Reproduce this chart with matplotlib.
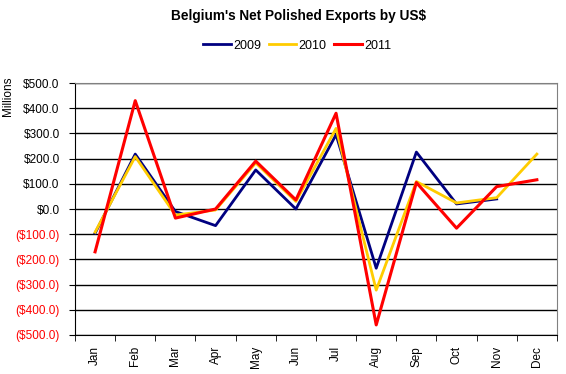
import matplotlib.pyplot as plt
from matplotlib import ticker

months = ['Jan', 'Feb', 'Mar', 'Apr', 'May', 'Jun', 'Jul', 'Aug', 'Sep', 'Oct', 'Nov', 'Dec']
exports_2009 = [-96, 218, -10, -66, 155, 0, 295, -235, 226, 20, 40]
exports_2010 = [-92, 208, -24, -4, 183, 30, 320, -322, 109, 24, 45, 218]
exports_2011 = [-170, 430, -36, 0, 190, 36, 380, -460, 105, -76, 89, 116]
y_ticks = list(range(-500, 501, 100))

plt.rcParams['font.family'] = ['Liberation Sans', 'DejaVu Sans']

fig = plt.figure(figsize=(5.66, 3.74), dpi=100)
ax = fig.add_axes([0.1325, 0.1043, 0.8515, 0.6737])

ax.plot(range(len(exports_2009)), exports_2009, color='#000080', lw=2.0, label='2009')
ax.plot(range(len(exports_2010)), exports_2010, color='#FFCC00', lw=2.0, label='2010')
ax.plot(range(len(exports_2011)), exports_2011, color='#FF0000', lw=2.2, label='2011')

ax.set_xlim(-0.5, len(months) - 0.5)
ax.set_ylim(-500, 500)
ax.set_yticks(y_ticks)
ax.set_yticklabels([('$%.1f' % v) if v >= 0 else ('($%.1f)' % -v) for v in y_ticks], fontsize=8.5)
for lbl, v in zip(ax.get_yticklabels(), y_ticks):
    lbl.set_color('red' if v < 0 else 'black')
ax.yaxis.grid(True, color='black', lw=1)
ax.set_axisbelow(True)

ax.set_xticks(range(len(months)))
ax.set_xticklabels(months, rotation=90, fontsize=8.5)
ax.tick_params(axis='x', which='major', length=0, pad=8)
ax.xaxis.set_minor_locator(ticker.FixedLocator([i - 0.5 for i in range(len(months) + 1)]))
ax.tick_params(axis='x', which='minor', length=4, color='black')
ax.tick_params(axis='y', length=4, color='black', pad=7)

ax.spines['top'].set_color('#808080')
ax.spines['right'].set_color('#808080')
ax.spines['left'].set_color('black')
ax.spines['bottom'].set_color('black')

fig.text(0.004, 0.795, 'Millions', rotation=90, fontsize=8.5, va='top', ha='left')
fig.suptitle("Belgium's Net Polished Exports by US$", x=0.527, y=0.975, fontsize=9.8, fontweight='bold')
fig.legend(loc='center', bbox_to_anchor=(0.525, 0.878), ncol=3, frameon=False, fontsize=9,
           handlelength=2.2, handletextpad=0.2, columnspacing=0.6)

fig.savefig('out.png', dpi=100)
